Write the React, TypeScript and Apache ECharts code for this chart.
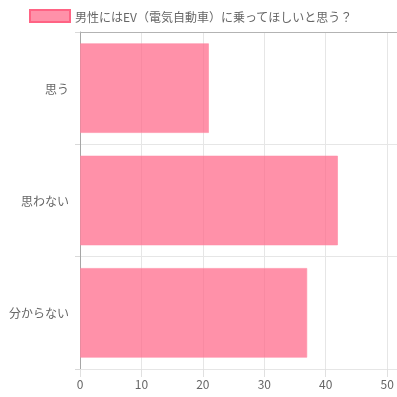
import React, { useEffect, useRef } from "react";
import * as echarts from "echarts";

const categories = ["思う", "思わない", "分からない"];
const seriesName = "男性にはEV（電気自動車）に乗ってほしいと思う？";
const values = [21, 42, 37];

const FONT = '"Noto Sans CJK JP", "Noto Sans", sans-serif';

export default function App() {
  const ref = useRef<HTMLDivElement>(null);
  useEffect(() => {
    if (!ref.current) return;
    const chart = echarts.init(ref.current, undefined, { renderer: "svg" });
    chart.setOption({
      animation: false,
      textStyle: { fontFamily: FONT },
      legend: {
        left: 24,
        top: 4,
        padding: 5,
        itemWidth: 40,
        itemHeight: 12,
        icon: "rect",
        itemStyle: { borderColor: "rgb(255,99,132)", borderWidth: 2 },
        textStyle: { color: "#666", fontSize: 12, fontFamily: FONT },
        data: [seriesName],
      },
      grid: { left: 80, right: 0, top: 32, bottom: 28, containLabel: false },
      xAxis: [
        {
          type: "value",
          position: "bottom",
          min: 0,
          max: 51.6,
          interval: 10,
          axisLine: { show: false },
          axisTick: { show: true, length: 8, lineStyle: { color: "#e0e0e0" } },
          axisLabel: {
            color: "#666",
            fontSize: 12,
            margin: 8,
            showMaxLabel: false,
            fontFamily: FONT,
            formatter: (v: number) => (v % 10 === 0 ? String(v) : ""),
          },
          splitLine: { show: true, lineStyle: { color: "#e6e6e6" } },
        },
        {
          type: "value",
          position: "top",
          min: 0,
          max: 51.6,
          axisLine: { show: true, onZero: false, lineStyle: { color: "#b3b3b3" } },
          axisTick: { show: false },
          axisLabel: { show: false },
          splitLine: { show: false },
        },
      ],
      yAxis: {
        type: "category",
        data: categories,
        inverse: true,
        axisLine: { show: true, lineStyle: { color: "#a6a6a6" } },
        axisTick: { show: true, length: 5, lineStyle: { color: "#d9d9d9" } },
        axisLabel: { color: "#666", fontSize: 12, margin: 11, fontFamily: FONT },
        splitLine: { show: true, lineStyle: { color: "#e6e6e6" } },
      },
      series: [
        {
          name: seriesName,
          type: "bar",
          xAxisIndex: 0,
          data: values,
          barCategoryGap: "20%",
          itemStyle: {
            color: "rgba(255,99,132,0.7)",
            borderColor: "rgba(255,140,165,0.6)",
            borderWidth: 1,
          },
        },
      ],
    });
    return () => chart.dispose();
  }, []);
  return (
    <div
      ref={ref}
      style={{ position: "fixed", left: 0, top: 0, width: 397, height: 397 }}
    />
  );
}
